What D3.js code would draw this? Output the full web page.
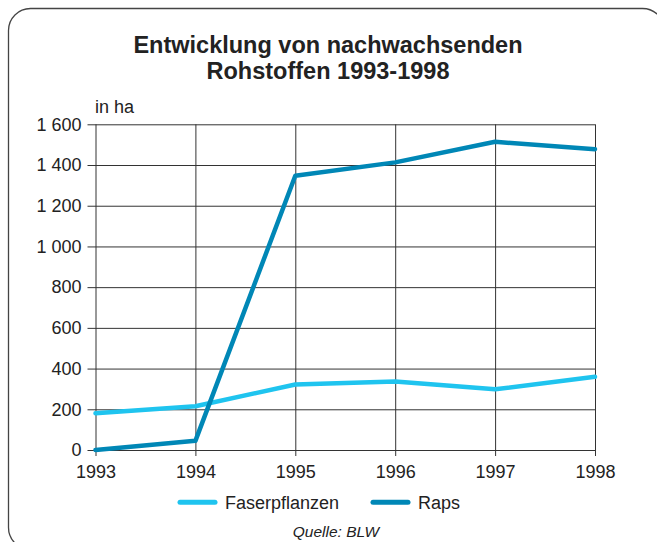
<!DOCTYPE html>
<html>
<head>
<meta charset="utf-8">
<script src="https://cdn.jsdelivr.net/npm/d3@7/dist/d3.min.js"></script>
<style>
  html, body { margin: 0; padding: 0; background: #fff; }
  svg { display: block; font-family: "Liberation Sans", Arial, Helvetica, sans-serif; }
</style>
</head>
<body>
<svg id="chart" width="657" height="542"></svg>
<script>
const years = [1993, 1994, 1995, 1996, 1997, 1998];
const faserpflanzen = [180, 215, 322, 337, 298, 360];
const raps = [0, 45, 1347, 1413, 1514, 1478];
const yTicks = [0, 200, 400, 600, 800, 1000, 1200, 1400, 1600];
const yTickLabels = ["0", "200", "400", "600", "800", "1 000", "1 200", "1 400", "1 600"];
const seriesNames = ["Faserpflanzen", "Raps"];
const seriesColors = ["#1fc4ef", "#0087b6"];
const titleLines = ["Entwicklung von nachwachsenden", "Rohstoffen 1993-1998"];
const unitLabel = "in ha";
const sourceLabel = "Quelle: BLW";

const svg = d3.select("#chart");
const textColor = "#222";
const gridColor = "#333";

// frame
svg.append("rect")
  .attr("x", 8.5).attr("y", 8.5)
  .attr("width", 656).attr("height", 541)
  .attr("rx", 22).attr("ry", 22)
  .attr("fill", "none").attr("stroke", "#444").attr("stroke-width", 1.3);

// title
svg.append("g").selectAll("text").data(titleLines).join("text")
  .attr("x", 328).attr("y", (d, i) => 53 + i * 26)
  .attr("text-anchor", "middle")
  .attr("font-size", "23.5px").attr("font-weight", "bold")
  .attr("fill", textColor)
  .text(d => d);

const x = d3.scaleLinear().domain([1993, 1998]).range([95.5, 595]);
const y = d3.scaleLinear().domain([0, 1600]).range([450, 124.3]);

// horizontal grid + y axis
const yAxis = d3.axisLeft(y).tickValues(yTicks)
  .tickSize(-(595 - 95.5)).tickSizeOuter(0).tickPadding(14)
  .tickFormat((d, i) => yTickLabels[i]);
const gy = svg.append("g").attr("transform", "translate(95.5,0)").call(yAxis);
gy.select(".domain").remove();
gy.selectAll(".tick line").attr("stroke", gridColor).attr("stroke-width", 1)
  .attr("x1", -8);
gy.selectAll(".tick text").attr("font-size", "18px").attr("fill", textColor)
  .attr("font-family", "Liberation Sans, Arial, sans-serif");

// vertical grid + x axis
const xAxis = d3.axisBottom(x).tickValues(years)
  .tickSize(-(450 - 124.3)).tickSizeOuter(0).tickPadding(12)
  .tickFormat(d3.format("d"));
const gx = svg.append("g").attr("transform", "translate(0,450)").call(xAxis);
gx.select(".domain").remove();
gx.selectAll(".tick line").attr("stroke", gridColor).attr("stroke-width", 1)
  .attr("y1", 6);
gx.selectAll(".tick text").attr("font-size", "18px").attr("fill", textColor)
  .attr("font-family", "Liberation Sans, Arial, sans-serif")
  .attr("dy", "0.9em");

// unit label
svg.append("text").attr("x", 95).attr("y", 112.5)
  .attr("font-size", "18px").attr("fill", textColor).text(unitLabel);

// lines
const line = d3.line().x((d, i) => x(years[i])).y(d => y(d));
[faserpflanzen, raps].forEach((vals, k) => {
  svg.append("path").datum(vals)
    .attr("d", line)
    .attr("fill", "none")
    .attr("stroke", seriesColors[k])
    .attr("stroke-width", 4.5)
    .attr("stroke-linejoin", "round")
    .attr("stroke-linecap", "round");
});

// legend
const legendX = [180, 373];
const legend = svg.append("g");
seriesNames.forEach((name, k) => {
  legend.append("line")
    .attr("x1", legendX[k]).attr("x2", legendX[k] + 35)
    .attr("y1", 502.3).attr("y2", 502.3)
    .attr("stroke", seriesColors[k]).attr("stroke-width", 5)
    .attr("stroke-linecap", "round");
  legend.append("text")
    .attr("x", legendX[k] + 45).attr("y", 509)
    .attr("font-size", "18px").attr("fill", textColor)
    .text(name);
});

// source
svg.append("text").attr("x", 336).attr("y", 537)
  .attr("text-anchor", "middle")
  .attr("font-size", "15.5px").attr("font-style", "italic")
  .attr("fill", textColor).text(sourceLabel);
</script>
</body>
</html>
